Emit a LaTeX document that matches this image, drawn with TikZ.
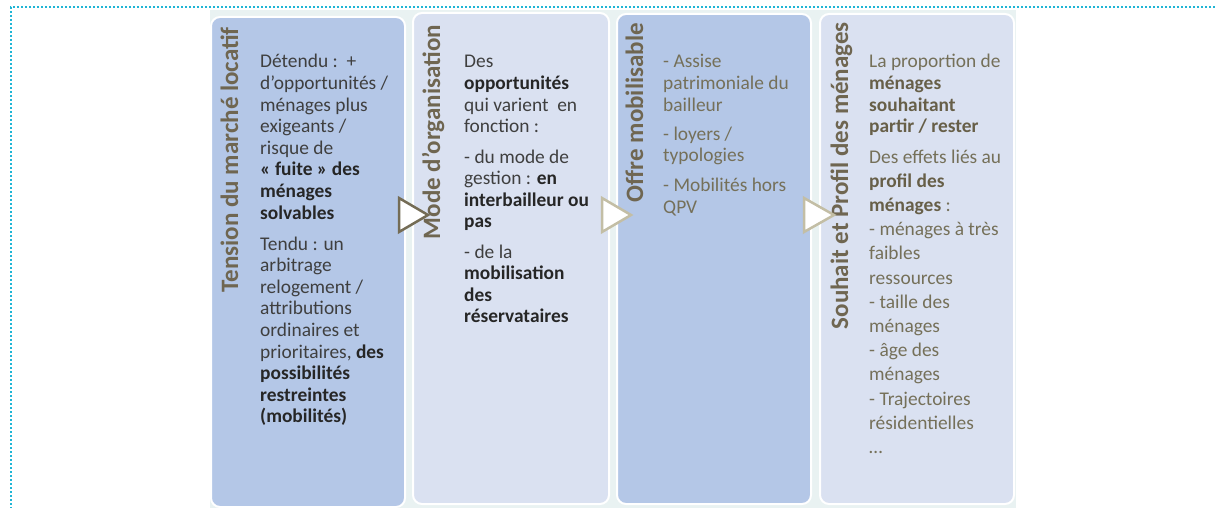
\documentclass[tikz,border=0pt]{standalone}
\usepackage{fontspec}
\setmainfont{Carlito}
\definecolor{bgc}{HTML}{E9F2F2}
\definecolor{boxdark}{HTML}{B4C7E7}
\definecolor{boxlight}{HTML}{DAE1F1}
\definecolor{dotc}{HTML}{1FB5D5}
\definecolor{titlec}{HTML}{6F6651}
\definecolor{darktxt}{HTML}{3F3F3F}
\definecolor{darkbold}{HTML}{262626}
\definecolor{olivetxt}{HTML}{757059}
\definecolor{olivebold}{HTML}{675F48}
\definecolor{arrowdark}{HTML}{746C55}
\definecolor{arrowlight}{HTML}{C3BEA5}
\tikzset{
  panel/.style={draw=white, line width=2pt, rounded corners=9pt, anchor=north west, inner sep=0pt, outer sep=0pt},
  title/.style={rotate=90, anchor=base east, inner sep=0pt, text=titlec, font=\fontsize{25}{25}\selectfont\bfseries},
  body/.style={anchor=base west, inner sep=0pt, font=\fontsize{19.4}{21.6}\selectfont},
  bodyb/.style={anchor=base west, inner sep=0pt, font=\fontsize{19.4}{24.2}\selectfont},
  chevron/.style={fill=white, line width=2.5pt, line join=miter},
  dotline/.style={draw=dotc, line width=2pt, dash pattern=on 2pt off 2pt}
}
\newcommand{\pb}[1]{\parbox[t]{150pt}{\raggedright #1}}
\begin{document}
\begin{tikzpicture}[x=1pt,y=-1pt]
\useasboundingbox (0,0) rectangle (1215,508);
\fill[white] (0,0) rectangle (1215,508);
% dotted frame
\coordinate (fc) at (11,7);
\coordinate (fr) at (1215,7);
\coordinate (fb) at (11,508);
\draw[dotline] (fr) -- (fc) -- (fb);
% background
\fill[bgc] (210,10) rectangle (1016,508);
% panels
\node[panel, fill=boxdark, minimum width=194pt, minimum height=490pt] (b1) at (211,17) {};
\node[panel, fill=boxlight, minimum width=196pt, minimum height=491pt] (b2) at (413,13) {};
\node[panel, fill=boxdark, minimum width=194pt, minimum height=490pt] (b3) at (617,14) {};
\node[panel, fill=boxlight, minimum width=194pt, minimum height=490pt] (b4) at (820,14) {};
% titles
\node[title] (t1) at (238,27) {Tension du marché locatif};
\node[title] (t2) at (440,25) {Mode d’organisation};
\node[title] (t3) at (643,23) {Offre mobilisable};
\node[title] (t4) at (848,22) {Souhait et Profil des ménages};
% box 1 text
\node[body, text=darktxt] (p11) at (260,68) {\pb{Détendu :~~+\\d’opportunités /\\ménages plus\\exigeants /\\risque de\\\textcolor{darkbold}{\bfseries « fuite » des\\ménages\\solvables}}};
\node[body, text=darktxt] (p12) at (260,250) {\pb{Tendu : un\\arbitrage\\relogement /\\attributions\\ordinaires et\\prioritaires, \textcolor{darkbold}{\bfseries des\\possibilités\\restreintes\\(mobilités)}}};
% box 2 text
\node[body, text=darktxt] (p21) at (464,68) {\pb{Des\\\textcolor{darkbold}{\bfseries opportunités}\\qui varient~ en\\fonction :}};
\node[body, text=darktxt] (p22) at (464,163) {\pb{- du mode de\\gestion : \textcolor{darkbold}{\bfseries en\\interbailleur ou\\pas}}};
\node[body, text=darktxt] (p23) at (464,258) {\pb{- de la\\\textcolor{darkbold}{\bfseries mobilisation\\des\\réservataires}}};
% box 3 text
\node[body, text=olivetxt] (p31) at (663,68) {\pb{- Assise\\patrimoniale du\\bailleur}};
\node[body, text=olivetxt] (p32) at (663,140) {\pb{- loyers /\\typologies}};
\node[body, text=olivetxt] (p33) at (663,191.5) {\pb{- Mobilités hors\\QPV}};
% box 4 text
\node[body, text=olivetxt] (p41) at (869,68) {\pb{La proportion de\\\textcolor{olivebold}{\bfseries ménages\\souhaitant\\partir / rester}}};
\node[bodyb, text=olivetxt] (p42) at (869,163) {\pb{Des effets liés au\\\textcolor{olivebold}{\bfseries profil des\\ménages} :\\- ménages à très\\faibles\\ressources\\- taille des\\ménages\\- âge des\\ménages\\- Trajectoires\\résidentielles\\…}};
% chevrons
\draw[chevron, draw=arrowdark] (b1.east) ++(-6,-64) coordinate (c1) -- ++(29,17) -- ++(-29,17) -- cycle;
\draw[chevron, draw=arrowlight] (b2.east) ++(-7,-60.5) coordinate (c2) -- ++(29,17) -- ++(-29,17) -- cycle;
\draw[chevron, draw=arrowlight] (b3.east) ++(-7,-61) coordinate (c3) -- ++(30,17) -- ++(-30,17) -- cycle;
\end{tikzpicture}
\end{document}
